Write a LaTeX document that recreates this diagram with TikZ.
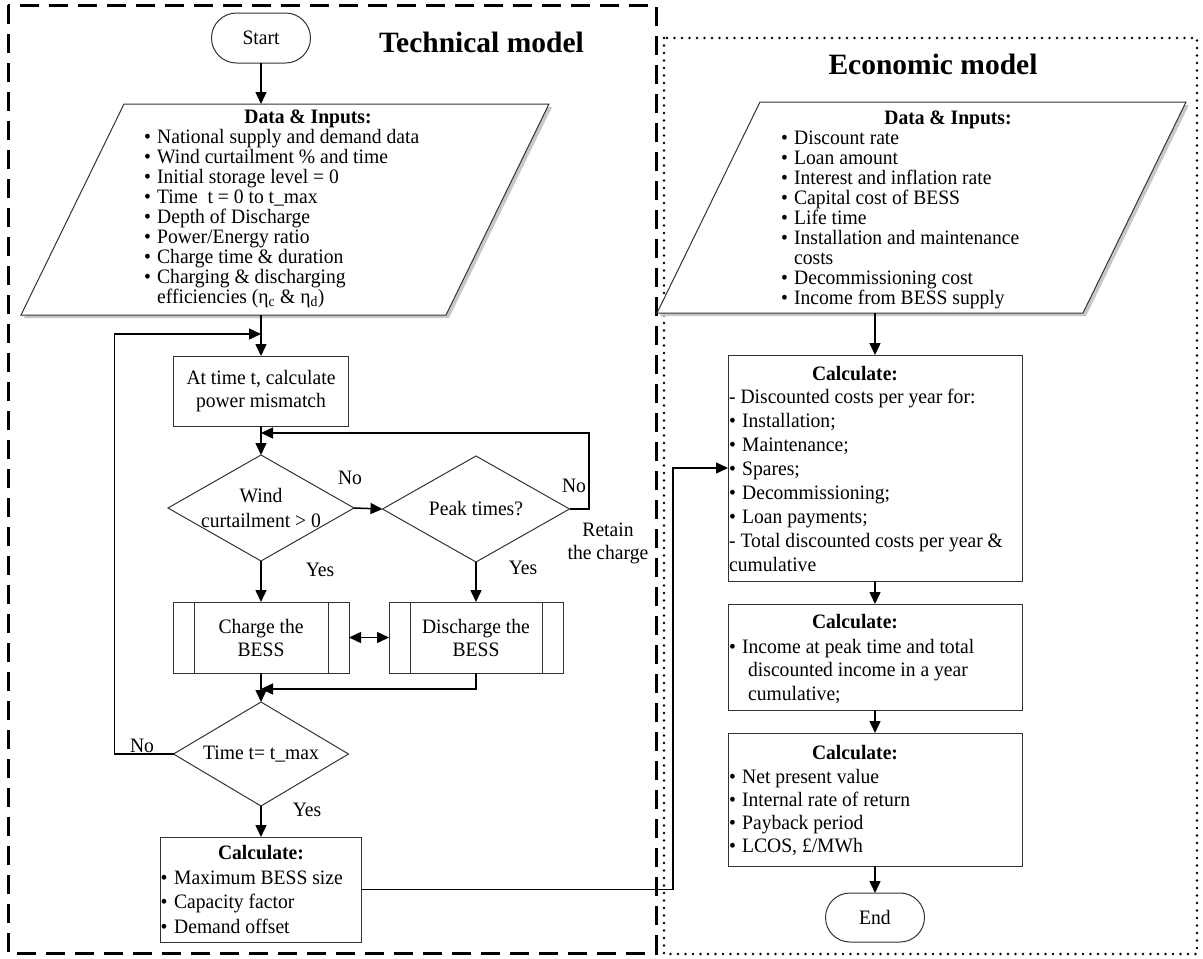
\documentclass[tikz,border=0pt]{standalone}
\usepackage{fontspec}
\setmainfont{Liberation Serif}[FakeStretch=0.955]
\newfontfamily\titlefnt{Liberation Serif}
\usetikzlibrary{arrows.meta,shapes.geometric,shapes.misc,calc}
\newcommand\mybul{\makebox[13pt][l]{•}}
\newcommand\stk[1]{\vtop{\lineskiplimit=-100pt\lineskip=0pt #1}}
\newcommand\fsz[1]{\fontsize{20.5}{#1}\selectfont\lineskiplimit=-100pt\lineskip=0pt}
\begin{document}
\begin{tikzpicture}[x=1pt,y=-1pt,
  body/.style={font=\fsz{20}},
  boxline/.style={draw=black!80,line width=1pt},
  procbox/.style={boxline,rectangle,inner sep=0pt,outer sep=0pt},
  termbox/.style={boxline,rounded rectangle,minimum width=99pt,minimum height=50pt,inner sep=0pt,outer sep=0pt,font=\fsz{20}},
  decbox/.style={boxline,diamond,inner sep=0pt,outer sep=0pt},
  frame/.style={rectangle,minimum width=425pt,minimum height=211pt,inner sep=0pt,outer sep=0pt},
  arr/.style={line width=1.5pt,-{Triangle[length=12pt,width=11pt]}},
  darr/.style={line width=1.5pt,{Triangle[length=12pt,width=11pt]}-{Triangle[length=12pt,width=11pt]}},
  lbl/.style={font=\fsz{25},align=center,inner sep=0pt},
  title/.style={font=\titlefnt\fontsize{29.5}{30}\selectfont\bfseries,inner sep=0pt,anchor=base},
  lst/.style={inner sep=0pt,anchor=base west}
]
\useasboundingbox (0,0) rectangle (1203,959);
\fill[white] (0,0) rectangle (1203,959);

% panels
\draw[line width=3pt,dash pattern=on 19pt off 10pt] (8,5) rectangle (656,953);
\draw[line width=2.6pt,line cap=round,dash pattern=on 0pt off 7.5pt] (664,38) rectangle (1197,954);

\node[title] (ttech) at (481.5,52) {Technical model};
\node[title] (tecon) at (933,74) {Economic model};

% ---------- technical model ----------
\node[termbox] (start) at (261,38) {Start};

\node[frame] (dataT) at (285,209.5) {};
\fill[black!22] ($(dataT.north west)+(54.5,3)$) -- ($(dataT.north east)+(54.5,3)$) -- ($(dataT.south east)+(-48.5,3)$) -- ($(dataT.south west)+(-48.5,3)$) -- cycle;
\draw[boxline,fill=white] ($(dataT.north west)+(51.5,0)$) -- ($(dataT.north east)+(51.5,0)$) -- ($(dataT.south east)+(-51.5,0)$) -- ($(dataT.south west)+(-51.5,0)$) -- cycle;
\node[body,inner sep=0pt,anchor=base] (dataTh) at (308,123) {\textbf{Data \& Inputs:}};
\node[body,lst] (dataTl) at (144,143) {\stk{%
\hbox{\mybul National supply and demand data}
\hbox{\mybul Wind curtailment \% and time}
\hbox{\mybul Initial storage level = 0}
\hbox{\mybul Time\ \ t = 0 to t\_max}
\hbox{\mybul Depth of Discharge}
\hbox{\mybul Power/Energy ratio}
\hbox{\mybul Charge time \& duration}
\hbox{\mybul Charging \& discharging}
\hbox{\hspace*{13pt}efficiencies (η\textsubscript{c} \& η\textsubscript{d})}}};

\coordinate (loopin) at (261,334);
\node[procbox,minimum width=175pt,minimum height=70pt,align=center,font=\fsz{23}] (atbox) at (261,391) {At time t, calculate\\power mismatch};

\coordinate (merge1) at (261,433);
\node[decbox,minimum width=186pt,minimum height=106pt,label={[lbl]center:Wind\\curtailment > 0}] (windD) at (261,508) {};
\node[decbox,minimum width=187pt,minimum height=106pt,label={[lbl]center:Peak times?}] (peakD) at (476,509) {};

\node[procbox,minimum width=176pt,minimum height=71pt,align=center,font=\fsz{23}] (chg) at (261,637.5) {Charge the\\BESS};
\node[procbox,minimum width=174pt,minimum height=71pt,align=center,font=\fsz{23}] (dis) at (476,637.5) {Discharge the\\BESS};
\foreach \b in {chg,dis}{
  \draw[boxline] ([xshift=21pt]\b.north west) -- ([xshift=21pt]\b.south west);
  \draw[boxline] ([xshift=-21pt]\b.north east) -- ([xshift=-21pt]\b.south east);
}
\coordinate (merge2) at (261,689);

\node[decbox,minimum width=175pt,minimum height=104pt,label={[lbl]center:Time t= t\_max}] (timeD) at (261,754) {};

\node[procbox,minimum width=201pt,minimum height=105pt] (calcT) at (261,889.5) {};
\node[body,inner sep=0pt,anchor=base] (calcTh) at (261,859) {\textbf{Calculate:}};
\node[lst,font=\fsz{24.5}] (calcTl) at (160.5,884) {\stk{%
\hbox{\makebox[13.5pt][l]{•}Maximum BESS size}
\hbox{\makebox[13.5pt][l]{•}Capacity factor}
\hbox{\makebox[13.5pt][l]{•}Demand offset}}};

% labels
\node[lbl] (no1) at (350,478) {No};
\node[lbl] (no2) at (574,486) {No};
\node[lbl,font=\fsz{23}] (retain) at (608,543.5) {Retain\\the charge};
\node[lbl] (yes1) at (320,570) {Yes};
\node[lbl] (yes2) at (523,568) {Yes};
\node[lbl] (no3) at (142,746) {No};
\node[lbl] (yes3) at (307,810) {Yes};

% technical connectors
\draw[arr] (start.south) -- (start.south |- dataT.north);
\draw[arr] (start.south |- dataT.south) -- (atbox.north);
\draw[arr] (timeD.west) -- ++(-59,0) |- (loopin);
\draw[arr] (atbox.south) -- (windD.north);
\draw[arr] (peakD.east) -- ++(19.5,0) |- (merge1);
\draw[arr] (windD.east) -- (peakD.west);
\draw[arr] (windD.south) -- (chg.north);
\draw[arr] (peakD.south) -- (dis.north);
\draw[darr] (chg.east) -- (dis.west);
\draw[arr] (dis.south) |- (merge2);
\draw[arr] (chg.south) -- (timeD.north);
\draw[arr] (timeD.south) -- (calcT.north);

% ---------- economic model ----------
\node[frame,minimum width=426pt] (dataE) at (921.5,207.5) {};
\fill[black!22] ($(dataE.north west)+(54.5,3)$) -- ($(dataE.north east)+(54.5,3)$) -- ($(dataE.south east)+(-48.5,3)$) -- ($(dataE.south west)+(-48.5,3)$) -- cycle;
\draw[boxline,fill=white] ($(dataE.north west)+(51.5,0)$) -- ($(dataE.north east)+(51.5,0)$) -- ($(dataE.south east)+(-51.5,0)$) -- ($(dataE.south west)+(-51.5,0)$) -- cycle;
\node[body,inner sep=0pt,anchor=base] (dataEh) at (948,124) {\textbf{Data \& Inputs:}};
\node[body,lst] (dataEl) at (781,144) {\stk{%
\hbox{\mybul Discount rate}
\hbox{\mybul Loan amount}
\hbox{\mybul Interest and inflation rate}
\hbox{\mybul Capital cost of BESS}
\hbox{\mybul Life time}
\hbox{\mybul Installation and maintenance}
\hbox{\hspace*{13pt}costs}
\hbox{\mybul Decommissioning cost}
\hbox{\mybul Income from BESS supply}}};

\node[procbox,minimum width=294pt,minimum height=226pt] (ecalc1) at (875,468) {};
\node[body,inner sep=0pt,anchor=base] (ecalc1h) at (855,380) {\textbf{Calculate:}};
\node[lst,font=\fsz{24.1}] (ecalc1l) at (729,403) {\stk{%
\hbox{- Discounted costs per year for:}
\hbox{\mybul Installation;}
\hbox{\mybul Maintenance;}
\hbox{\mybul Spares;}
\hbox{\mybul Decommissioning;}
\hbox{\mybul Loan payments;}
\hbox{- Total discounted costs per year \&}
\hbox{cumulative}}};

\node[procbox,minimum width=294pt,minimum height=106pt] (ecalc2) at (875,657) {};
\node[body,inner sep=0pt,anchor=base] (ecalc2h) at (855,628) {\textbf{Calculate:}};
\node[lst,font=\fsz{23.5}] (ecalc2l) at (729,653) {\stk{%
\hbox{\mybul Income at peak time and total}
\hbox{\hspace*{19pt}discounted income in a year}
\hbox{\hspace*{19pt}cumulative;}}};

\node[procbox,minimum width=294pt,minimum height=133pt] (ecalc3) at (875,799.5) {};
\node[body,inner sep=0pt,anchor=base] (ecalc3h) at (855,759) {\textbf{Calculate:}};
\node[lst,font=\fsz{23.3}] (ecalc3l) at (729,783) {\stk{%
\hbox{\mybul Net present value}
\hbox{\mybul Internal rate of return}
\hbox{\mybul Payback period}
\hbox{\mybul LCOS, £/MWh}}};

\node[termbox,minimum height=49pt] (endn) at (875,917.5) {End};

% economic connectors
\draw[arr] (ecalc1.north |- dataE.south) -- (ecalc1.north);
\draw[arr] (ecalc1.south) -- (ecalc2.north);
\draw[arr] (ecalc2.south) -- (ecalc3.north);
\draw[arr] (ecalc3.south) -- (endn.north);
\draw[arr] (calcT.east) -- ++(311.5,0) |- (ecalc1.west);
\end{tikzpicture}
\end{document}
